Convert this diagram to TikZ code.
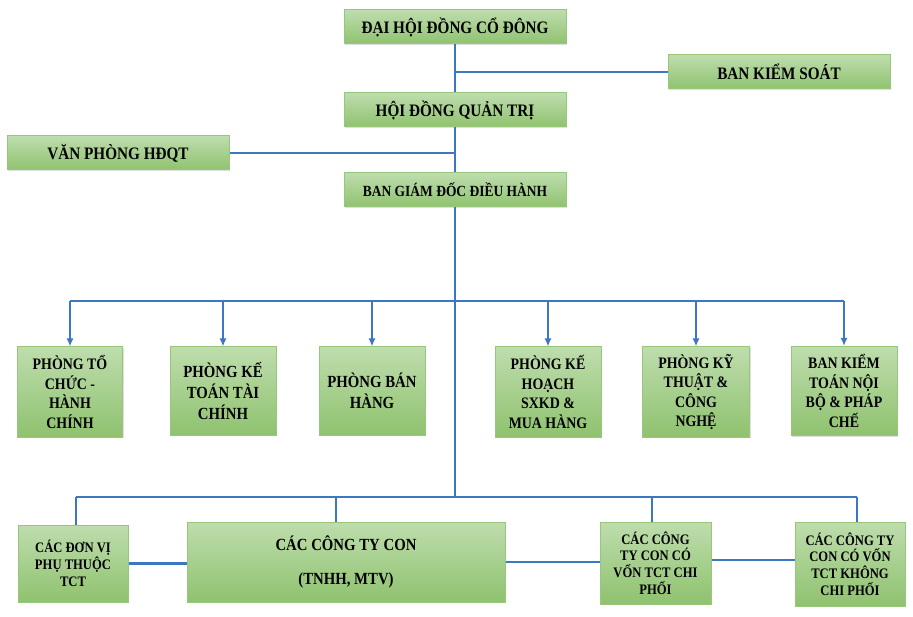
\documentclass[tikz,border=0pt]{standalone}
\usepackage{fontspec}
\newfontfamily\bx[FakeStretch=0.87]{Liberation Serif}
\usetikzlibrary{arrows.meta,shadows}
\definecolor{gtop}{HTML}{BEDDAD}
\definecolor{gbot}{HTML}{8FC26F}
\definecolor{gbord}{HTML}{98C67A}
\definecolor{lblue}{HTML}{3B78C1}
\tikzset{
  box/.style={rectangle, draw=gbord, line width=1pt, top color=gtop, bottom color=gbot,
    inner sep=0pt, align=center, font=\bx\bfseries,
    drop shadow={shadow xshift=1pt, shadow yshift=-1.2pt, opacity=0.25}},
  link/.style={draw=lblue, line width=1.8pt},
  thicklink/.style={draw=lblue, line width=2.6pt},
  arr/.style={draw=lblue, line width=1.8pt, -{Latex[length=8pt,width=7pt]}},
  fA/.style={font=\bx\bfseries\fontsize{17.5}{20}\selectfont},
  fB/.style={font=\bx\bfseries\fontsize{15.5}{18}\selectfont},
  fC/.style={font=\bx\bfseries\fontsize{16}{19.5}\selectfont},
  fD/.style={font=\bx\bfseries\fontsize{17}{21}\selectfont},
  fE/.style={font=\bx\bfseries\fontsize{14.5}{16.7}\selectfont},
}
\begin{document}
\begin{tikzpicture}[x=1pt,y=-1pt]
\useasboundingbox[fill=white] (0,0) rectangle (913,617);
% top level
\node[box,fA,minimum width=222pt,minimum height=34pt] (dh) at (455,27) {ĐẠI HỘI ĐỒNG CỔ ĐÔNG};
\node[box,fA,minimum width=222pt,minimum height=34pt] (bks) at (779,72) {BAN KIỂM SOÁT};
\node[box,fA,minimum width=222pt,minimum height=34pt] (hd) at (455,110) {HỘI ĐỒNG QUẢN TRỊ};
\node[box,fA,minimum width=222pt,minimum height=34pt] (vp) at (118,153) {VĂN PHÒNG HĐQT};
\node[box,fB,minimum width=222pt,minimum height=34pt] (bg) at (455,190) {BAN GIÁM ĐỐC ĐIỀU HÀNH};
% departments
\node[box,fC,minimum width=105pt,minimum height=90pt] (p1) at (70,392) {PHÒNG TỔ\\CHỨC -\\HÀNH\\CHÍNH};
\node[box,fD,minimum width=106pt,minimum height=88pt] (p2) at (223,391) {PHÒNG KẾ\\TOÁN TÀI\\CHÍNH};
\node[box,fD,minimum width=106pt,minimum height=88pt] (p3) at (372,391) {PHÒNG BÁN\\HÀNG};
\node[box,fC,minimum width=106pt,minimum height=90pt] (p4) at (548,392) {PHÒNG KẾ\\HOẠCH\\SXKD \&\\MUA HÀNG};
\node[box,fC,minimum width=107pt,minimum height=90pt] (p5) at (696,392) {PHÒNG KỸ\\THUẬT \&\\CÔNG\\NGHỆ};
\node[box,fC,minimum width=106pt,minimum height=89pt] (p6) at (844,391) {BAN KIỂM\\TOÁN NỘI\\BỘ \& PHÁP\\CHẾ};
% units
\node[box,fE,minimum width=110pt,minimum height=77pt] (c1) at (73,563.5) {CÁC ĐƠN VỊ\\PHỤ THUỘC\\TCT};
\node[box,font=\bx\bfseries\fontsize{17}{20}\selectfont,minimum width=318pt,minimum height=80pt] (c2) at (346,562) {CÁC CÔNG TY CON\\[14pt](TNHH, MTV)};
\node[box,fE,minimum width=111pt,minimum height=82pt] (c3) at (655.5,563) {CÁC CÔNG\\TY CON CÓ\\VỐN TCT CHI\\PHỐI};
\node[box,fE,minimum width=110pt,minimum height=84pt] (c4) at (850,564) {CÁC CÔNG TY\\CON CÓ VỐN\\TCT KHÔNG\\CHI PHỐI};
% bus coordinates
\coordinate (bus1) at (455,301);
\coordinate (bus2) at (455,497);
% top connectors
\draw[link] (dh.south) -- (hd.north);
\draw[thicklink] (dh.south |- bks.west) -- (bks.west);
\draw[thicklink] (vp.east) -- (vp.east -| hd.south);
\draw[link] (hd.south) -- (bg.north);
\draw[link] (bg.south) -- (bus2);
% department bus
\draw[link] (p1.north |- bus1) -- (p6.north |- bus1);
\foreach \p in {p1,p2,p3,p4,p5,p6}{
  \draw[arr] (\p.north |- bus1) -- (\p.north);
}
% units bus
\coordinate (c1t) at ([xshift=3pt]c1.north);
\coordinate (c2t) at ([xshift=-10pt]c2.north);
\coordinate (c3t) at ([xshift=-3.5pt]c3.north);
\coordinate (c4t) at ([xshift=7pt]c4.north);
\draw[link] (c1t |- bus2) -- (c4t |- bus2);
\foreach \c in {c1t,c2t,c3t,c4t}{
  \draw[link] (\c |- bus2) -- (\c);
}
% horizontal links between units
\draw[thicklink] (c1.east) -- (c1.east -| c2.west);
\draw[thicklink] (c2.east) -- (c2.east -| c3.west);
\draw[thicklink] ([yshift=3pt]c3.east) -- ([yshift=3pt]c3.east -| c4.west);
\end{tikzpicture}
\end{document}
